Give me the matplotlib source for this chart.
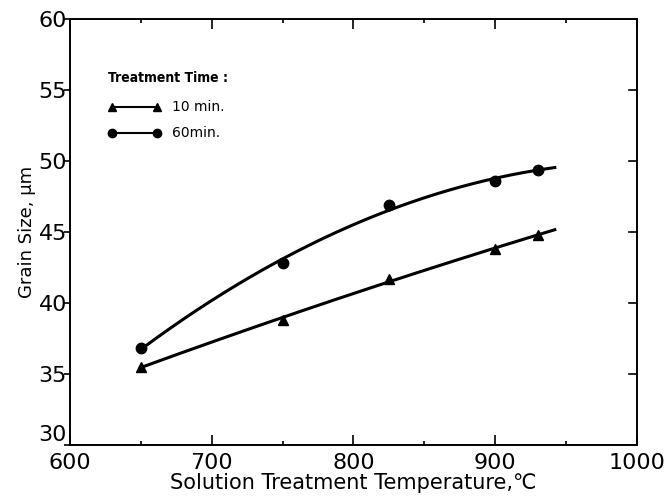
import matplotlib.pyplot as plt
import numpy as np

# Data
temp = [650, 750, 825, 900, 930]
size_10min = [35.5, 38.8, 41.7, 43.8, 44.8]
size_60min = [36.8, 42.8, 46.9, 48.6, 49.4]
xticks = [600, 700, 800, 900, 1000]
yticks = [30, 35, 40, 45, 50, 55, 60]

plt.rcParams['font.family'] = ['DejaVu Sans']

fig = plt.figure(figsize=(6.65, 5), dpi=100)
ax = fig.add_axes([0.105, 0.11, 0.853, 0.852])

# smooth fitted curves (quadratic fit through the points)
xs = np.linspace(650, 942, 200)
for y, marker in [(size_10min, '^'), (size_60min, 'o')]:
    coef = np.polyfit(temp, y, 2)
    ax.plot(xs, np.polyval(coef, xs), color='black', lw=2.2)
    ax.plot(temp, y, linestyle='none', marker=marker, color='black', ms=7.5)

ax.set_xlim(600, 1000)
ax.set_ylim(30, 60)
ax.set_xticks(xticks)
ax.set_xticks([650, 750, 850, 950], minor=True)
ax.set_yticks(yticks)
ax.tick_params(axis='x', which='major', direction='in', length=7, width=1.2,
               labelsize=16, pad=6, top=True)
ax.tick_params(axis='x', which='minor', direction='in', length=3, width=1.2, top=True)
ax.tick_params(axis='y', which='major', direction='out', length=4, width=1.2,
               labelsize=16, pad=-2)
# the "30" sits just above the corner, clear of "600"
fig.canvas.draw()
ax.get_yticklabels()[0].set_verticalalignment('bottom')
for v in yticks[1:-1]:
    ax.plot([1, 0.985], [(v - 30) / 30] * 2, transform=ax.transAxes,
            color='black', lw=1.2, clip_on=False)
for s in ax.spines.values():
    s.set_linewidth(1.4)

ax.set_xlabel('Solution Treatment Temperature,\u2103', fontsize=15, labelpad=0)
ax.set_ylabel('Grain Size, \u03bcm', fontsize=13, labelpad=2)

# hand-drawn style legend
ax.text(0.067, 0.861, 'Treatment Time :', transform=ax.transAxes, fontsize=10,
        fontweight='bold', fontstretch='condensed', va='center')
for yy, marker, label in [(0.793, '^', '10 min.'), (0.732, 'o', '60min.')]:
    ax.plot([0.074, 0.153], [yy, yy], transform=ax.transAxes, color='black',
            lw=1.5, marker=marker, ms=6)
    ax.text(0.18, yy, label, transform=ax.transAxes, fontsize=10, va='center')

fig.savefig('out.png', dpi=100)
